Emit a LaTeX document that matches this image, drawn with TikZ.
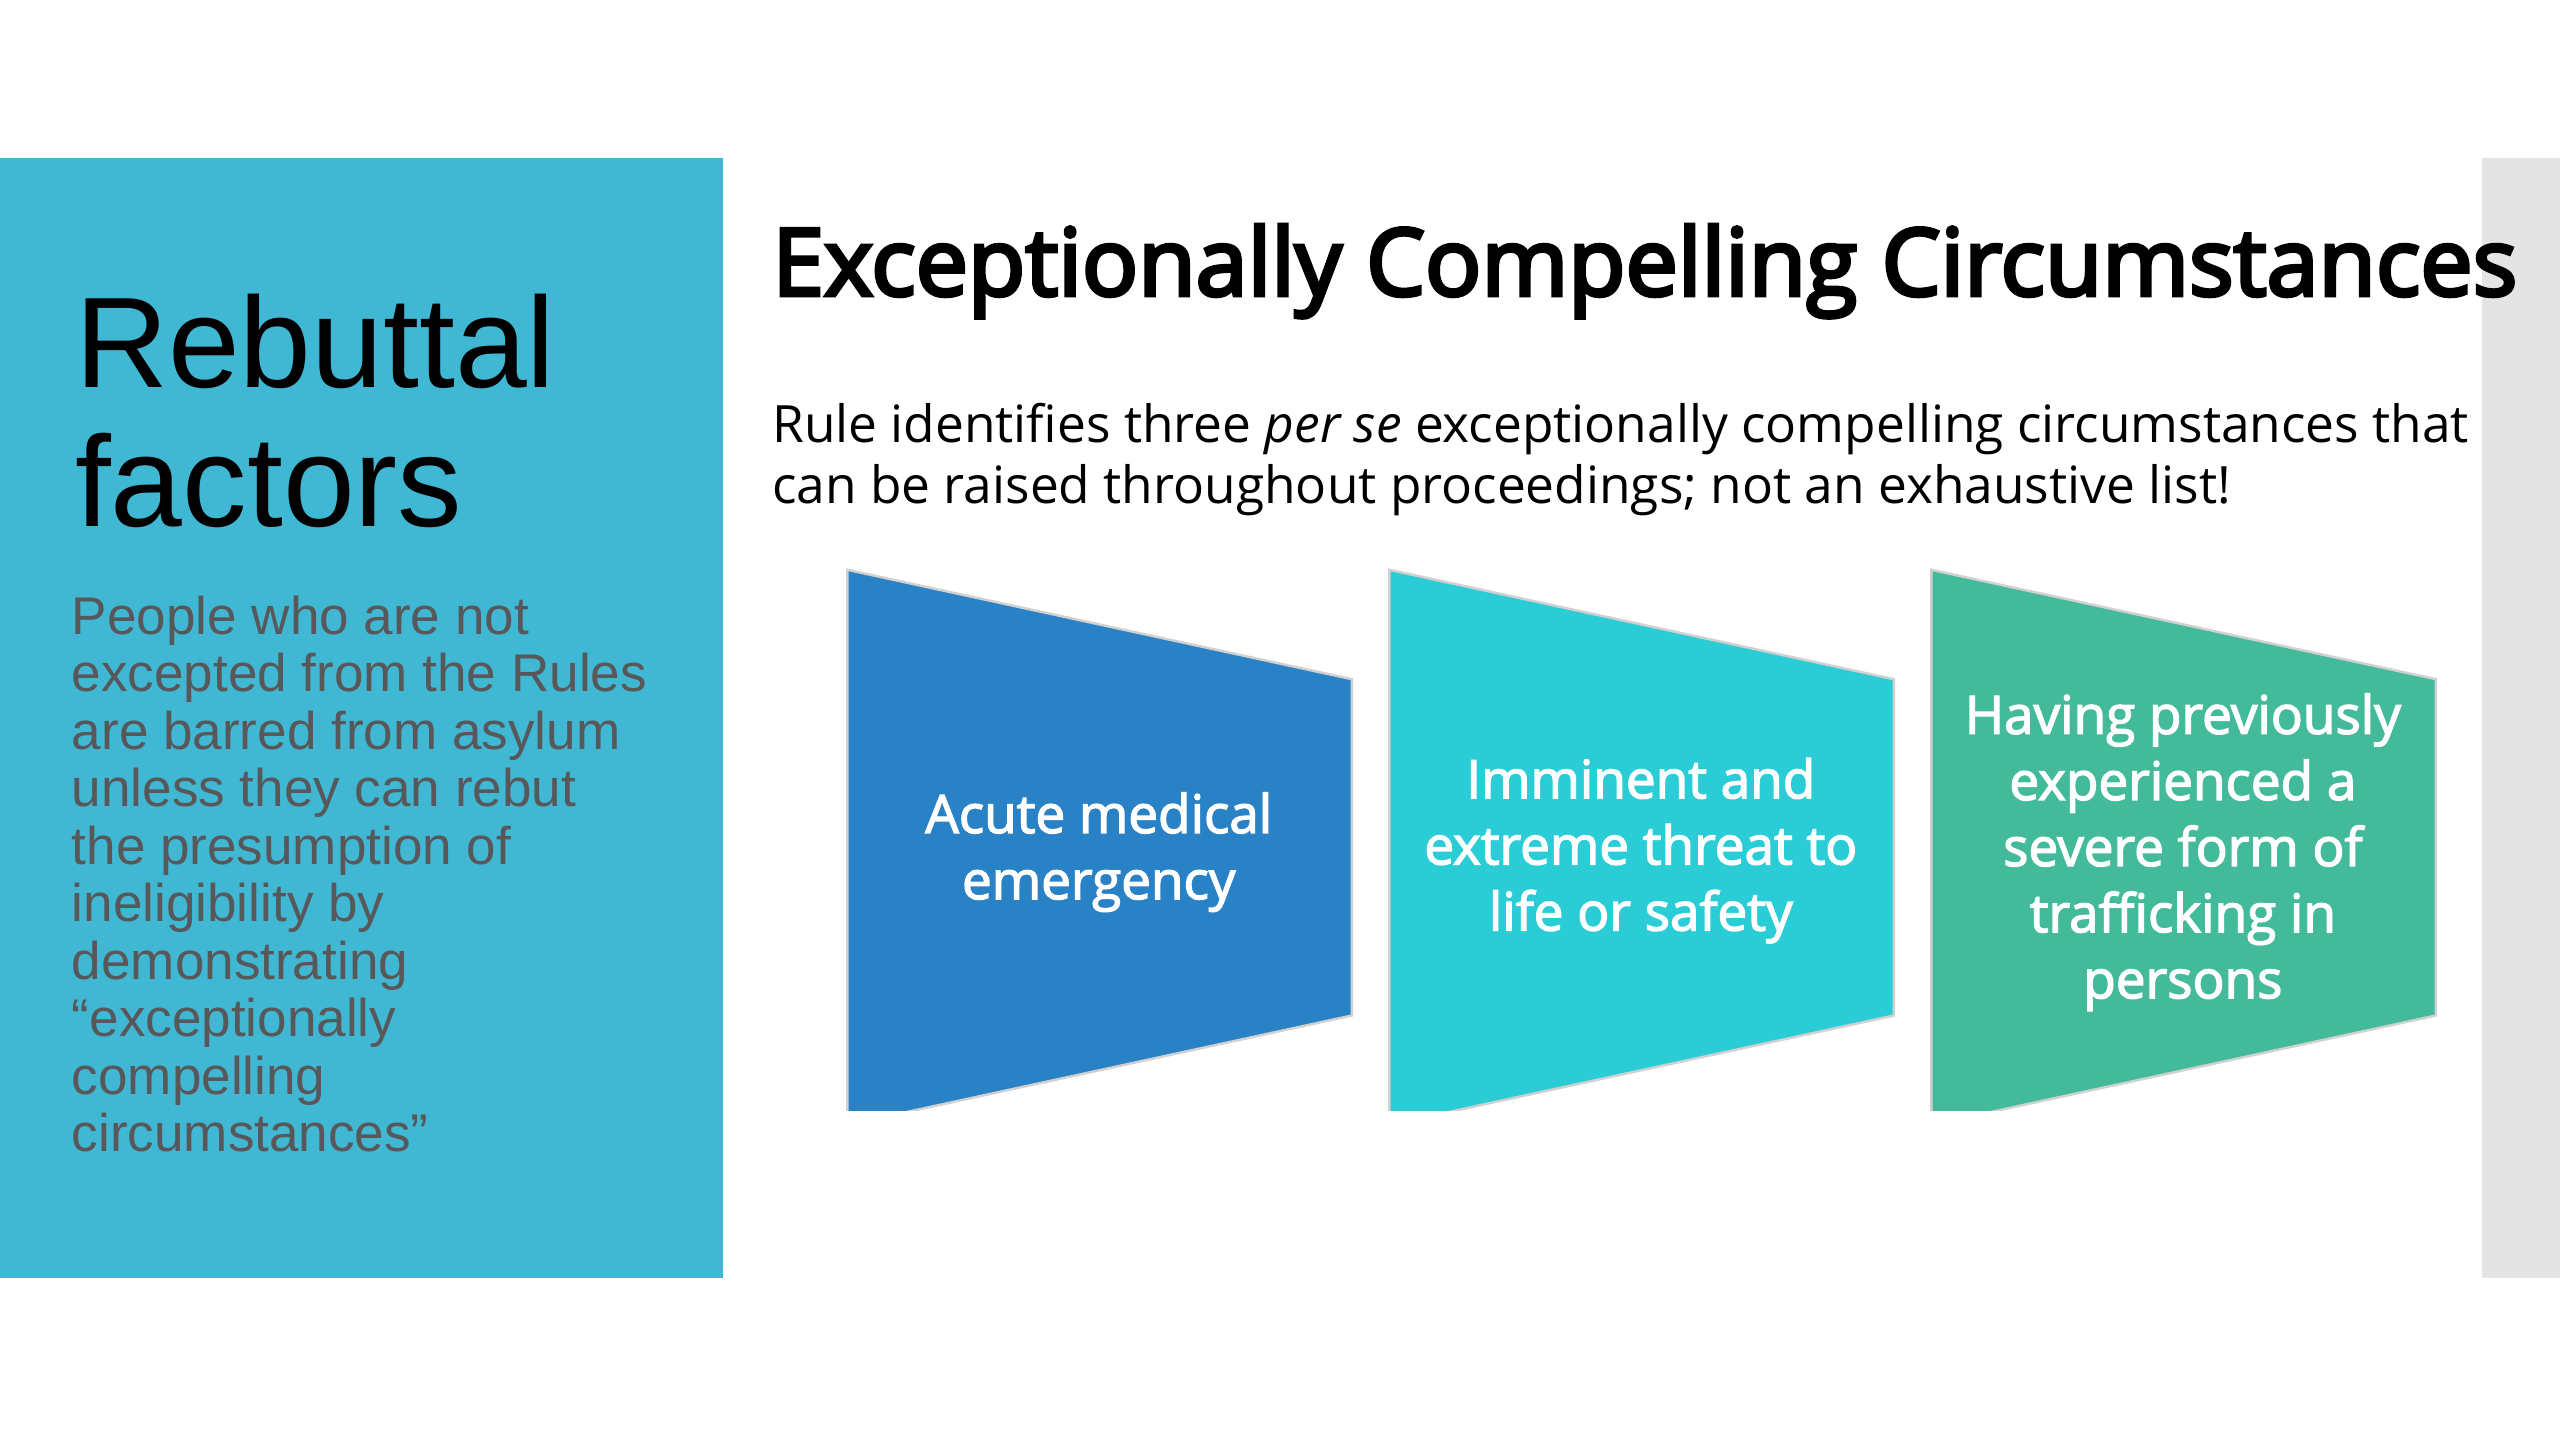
\documentclass[tikz,border=0pt]{standalone}
\usepackage{fontspec}
\setmainfont{Open Sans}
\newfontfamily\arialfont{Liberation Sans}
\newfontfamily\titlefont[FakeBold=4]{Open Sans}
\newfontfamily\stagefont[FakeBold=2.5]{Open Sans}
\definecolor{panelteal}{RGB}{64,184,211}
\definecolor{sidegray}{RGB}{228,228,228}
\definecolor{paragray}{RGB}{88,88,90}
\definecolor{stageblue}{RGB}{42,130,198}
\definecolor{stagecyan}{RGB}{42,205,214}
\definecolor{stagegreen}{RGB}{67,187,154}
\tikzset{every node/.style={inner sep=0pt,outer sep=0pt}}
\tikzset{stagetext/.style={text=white,align=center,font=\stagefont\fontsize{32.5}{40.5}\selectfont}}
\tikzset{stageshape/.style={draw=black!18,line width=1.5pt}}

\begin{document}
\begin{tikzpicture}[x=1pt,y=-1pt]
      \useasboundingbox (0,0) rectangle (1568,882);
      \fill[panelteal] (0,97) rectangle (443,783);
      \fill[sidegray] (1520,97) rectangle (1568,783);

      \node[anchor=north west,align=left,font=\arialfont\fontsize{79}{85}\selectfont] (R) at (46,180) {Rebuttal\\factors};
      \node[anchor=north west,align=left,text=paragray,font=\arialfont\fontsize{32.5}{35.2}\selectfont] (P) at (44,365)
        {People who are not\\excepted from the Rules\\are barred from asylum\\unless they can rebut\\the presumption of\\ineligibility by\\demonstrating\\“exceptionally\\compelling\\circumstances”};

      \node[anchor=base west,font=\titlefont\fontsize{57.2}{60}\selectfont] (T) at (473,181) {Exceptionally Compelling Circumstances};
      \node[anchor=north west,align=left,font=\fontsize{31.5}{37}\selectfont] (S) at (473,247)
        {Rule identifies three \textit{per se} exceptionally compelling circumstances that\\can be raised throughout proceedings; not an exhaustive list!};

      \begin{scope}
        \clip (0,0) rectangle (1568,680);
        \draw[stageshape,fill=stageblue] (519,349) -- (828,416) -- (828,622) -- (519,689) -- cycle;
        \draw[stageshape,fill=stagecyan] (851,349) -- (1160,416) -- (1160,622) -- (851,689) -- cycle;
        \draw[stageshape,fill=stagegreen] (1183,349) -- (1492,416) -- (1492,622) -- (1183,689) -- cycle;
      \end{scope}

      \node[stagetext] (A) at (673,522) {Acute medical\\emergency};
      \node[stagetext] (I) at (1005,521) {Imminent and\\extreme threat to\\life or safety};
      \node[stagetext] (H) at (1337,522) {Having previously\\experienced a\\severe form of\\trafficking in\\persons};
    \end{tikzpicture}
\end{document}
